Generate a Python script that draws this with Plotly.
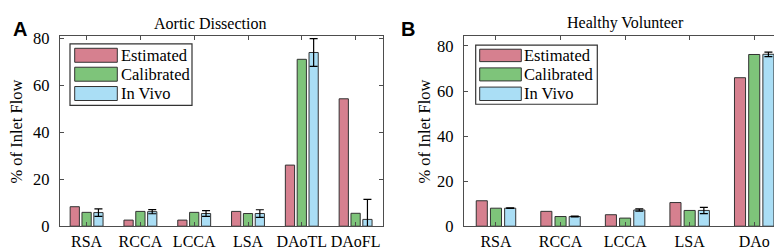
import plotly.graph_objects as go

# ---- data ----
cats_a = ["RSA", "RCCA", "LCCA", "LSA", "DAoTL", "DAoFL"]
est_a = [8.3, 2.6, 2.6, 6.3, 26.0, 54.2]
cal_a = [5.9, 6.3, 5.9, 5.4, 71.0, 5.5]
vivo_a = [5.8, 6.2, 5.4, 5.4, 73.9, 2.9]
vivo_err_a = [1.6, 0.9, 1.2, 1.6, 5.9, 8.5]

cats_b = ["RSA", "RCCA", "LCCA", "LSA", "DAo"]
est_b = [11.3, 6.6, 5.1, 10.5, 65.9]
cal_b = [8.0, 4.3, 3.6, 7.0, 76.2]
vivo_b = [8.0, 4.3, 7.2, 7.0, 76.3]
vivo_err_b = [0.1, 0.2, 0.5, 1.4, 1.0]

series_names = ["Estimated", "Calibrated", "In Vivo"]
colors = ["#D6808F", "#7EC47A", "#AADEF5"]

W, H = 782, 252
FONT = "Liberation Serif"
AX = "#4d4d4d"

def px(x):
    return x / W

def py(y):
    return 1 - y / H

fig = go.Figure()

def add_panel(cats, est, cal, vivo, err, xa, ya):
    for name, vals, col, e in zip(series_names, [est, cal, vivo], colors, [None, None, err]):
        kw = dict(
            x=cats, y=vals, name=name, marker=dict(color=col, line=dict(color="#333333", width=1)),
            xaxis=xa, yaxis=ya, showlegend=False,
        )
        if e is not None:
            kw["error_y"] = dict(type="data", array=e, visible=True, color="black", thickness=1.2, width=4)
        fig.add_trace(go.Bar(**kw))

add_panel(cats_a, est_a, cal_a, vivo_a, vivo_err_a, "x", "y")
add_panel(cats_b, est_b, cal_b, vivo_b, vivo_err_b, "x2", "y2")

ydom = [py(226.5), py(22.3)]
axis_common = dict(
    showline=True, linecolor=AX, linewidth=1, mirror="allticks", ticks="inside",
    ticklen=4, tickcolor=AX, showgrid=False, zeroline=False,
)
yfont = dict(family=FONT, size=16.5, color="black")
xfont = dict(family=FONT, size=16, color="black")

fig.update_layout(
    width=W, height=H, margin=dict(l=0, r=0, t=0, b=0),
    paper_bgcolor="white", plot_bgcolor="white",
    barmode="group", bargap=0.34, bargroupgap=0.22,
    font=dict(family=FONT, color="black"),
    xaxis=dict(domain=[px(51.7), px(374.5)], anchor="y", range=[-0.5, 5.5], ticklabelstandoff=1, tickfont=xfont, **axis_common),
    yaxis=dict(domain=ydom, anchor="x", range=[0, 81], tickvals=[0, 20, 40, 60, 80], ticklabelstandoff=6, tickfont=yfont, **axis_common),
    xaxis2=dict(domain=[px(455.7), px(778.5)], anchor="y2", range=[-0.5, 4.5], ticklabelstandoff=1, tickfont=xfont, **axis_common),
    yaxis2=dict(domain=ydom, anchor="x2", range=[0, 84.5], tickvals=[0, 20, 40, 60, 80], ticklabelstandoff=6, tickfont=yfont, **axis_common),
)

shapes = []
annotations = []

def legend(box, sw_x, rows, text_x):
    x0, y0, x1, y1 = box
    shapes.append(dict(type="rect", xref="paper", yref="paper", x0=px(x0), x1=px(x1), y0=py(y1), y1=py(y0),
                       line=dict(color="#333333", width=1.2), fillcolor="white", layer="above"))
    for (r0, r1), col, name in zip(rows, colors, series_names):
        shapes.append(dict(type="rect", xref="paper", yref="paper", x0=px(sw_x[0]), x1=px(sw_x[1]),
                           y0=py(r1), y1=py(r0), line=dict(color="#333333", width=1), fillcolor=col, layer="above"))
        annotations.append(dict(text=name, xref="paper", yref="paper", x=px(text_x), y=py((r0 + r1) / 2),
                                xanchor="left", yanchor="middle", showarrow=False,
                                font=dict(family=FONT, size=16.5, color="black")))

legend((62, 31, 184, 97), (66.7, 109.3), [(35.7, 50.7), (56, 71), (76.7, 91.7)], 111)
legend((467.7, 32.3, 589.3, 95.7), (471.7, 513.3), [(36.7, 50), (56.7, 70.7), (77.3, 91.7)], 513.5)

def text(t, x, y, size, angle=0, family=FONT, bold=False):
    annotations.append(dict(text=f"<b>{t}</b>" if bold else t, xref="paper", yref="paper", x=px(x), y=py(y),
                            xanchor="center", yanchor="middle", showarrow=False, textangle=angle,
                            font=dict(family=family, size=size, color="black")))

text("Aortic Dissection", 201.7, 9, 16)
text("Healthy Volunteer", 617, 9, 16)
text("% of Inlet Flow", 9, 125, 16.5, angle=-90)
text("% of Inlet Flow", 417, 125, 16.5, angle=-90)
text("A", 12, 15, 20, family="Liberation Sans", bold=True)
text("B", 400, 15, 20, family="Liberation Sans", bold=True)

fig.update_layout(shapes=shapes, annotations=annotations)
fig.write_html("out.html")
